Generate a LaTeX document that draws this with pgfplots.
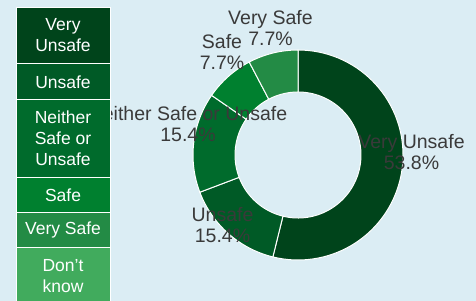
\documentclass[border=0pt]{standalone}
\usepackage{pgfplots}
\usepackage{pgfplotstable}
\pgfplotsset{compat=1.18}
\usepackage{fontspec}
\setmainfont{Liberation Sans}
\definecolor{bg}{HTML}{DBEDF4}
\definecolor{c1}{HTML}{00441B}
\definecolor{c2}{HTML}{005A26}
\definecolor{c3}{HTML}{006B2C}
\definecolor{c4}{HTML}{00802F}
\definecolor{c5}{HTML}{238B45}
\definecolor{c6}{HTML}{41AB5D}
\definecolor{lbl}{HTML}{3A3A3A}

\pgfplotstableread{
idx count
0 7
1 2
2 2
3 1
4 1
5 0
}\datatable

\newcommand\donutwedge[3]{%
  \fill[#1, draw=white, line width=1pt]
    (axis cs:298,145) ++(canvas polar cs:angle=#2,radius=105pt)
    arc[start angle=#2, end angle=#3, radius=105pt]
    -- ++(canvas polar cs:angle={#3+180},radius=42pt)
    arc[start angle=#3, end angle=#2, radius=63pt] -- cycle;}

\begin{document}
\begin{tikzpicture}
\pgfplotstablegetelem{0}{count}\of\datatable\pgfmathsetmacro\vA{\pgfplotsretval}
\pgfplotstablegetelem{1}{count}\of\datatable\pgfmathsetmacro\vB{\pgfplotsretval}
\pgfplotstablegetelem{2}{count}\of\datatable\pgfmathsetmacro\vC{\pgfplotsretval}
\pgfplotstablegetelem{3}{count}\of\datatable\pgfmathsetmacro\vD{\pgfplotsretval}
\pgfplotstablegetelem{4}{count}\of\datatable\pgfmathsetmacro\vE{\pgfplotsretval}
\pgfplotstablegetelem{5}{count}\of\datatable\pgfmathsetmacro\vF{\pgfplotsretval}
\pgfmathsetmacro\tot{\vA+\vB+\vC+\vD+\vE+\vF}
\pgfmathsetmacro\aA{90}
\pgfmathsetmacro\aB{\aA-360*\vA/\tot}
\pgfmathsetmacro\aC{\aB-360*\vB/\tot}
\pgfmathsetmacro\aD{\aC-360*\vC/\tot}
\pgfmathsetmacro\aE{\aD-360*\vD/\tot}
\pgfmathsetmacro\aF{\aE-360*\vE/\tot}
\begin{axis}[hide axis, scale only axis, width=476pt, height=300pt,
  xmin=0, xmax=476, ymin=0, ymax=300, clip=true]
\fill[bg] (axis cs:-5,-5) rectangle (axis cs:481,305);
\donutwedge{c1}{\aA}{\aB}
\donutwedge{c2}{\aB}{\aC}
\donutwedge{c3}{\aC}{\aD}
\donutwedge{c4}{\aD}{\aE}
\donutwedge{c5}{\aE}{\aF}
% labels
\begin{scope}[every node/.style={font=\fontsize{19.5}{20.5}\selectfont, text=lbl, align=center, inner sep=0pt}]
\node at (axis cs:411.5,148) {Very Unsafe\\53.8\%};
\node at (axis cs:222.5,75) {Unsafe\\15.4\%};
\node at (axis cs:188,176) {Neither Safe or Unsafe\\15.4\%};
\node at (axis cs:222,248) {Safe\\7.7\%};
\node at (axis cs:270.5,272) {Very Safe\\7.7\%};
\end{scope}
% legend
\fill[c1, draw=white, line width=1pt] (axis cs:16,292.5) rectangle (axis cs:110,236);
\fill[c2, draw=white, line width=1pt] (axis cs:16,236) rectangle (axis cs:110,200.5);
\fill[c3, draw=white, line width=1pt] (axis cs:16,200.5) rectangle (axis cs:110,122.5);
\fill[c4, draw=white, line width=1pt] (axis cs:16,122.5) rectangle (axis cs:110,88);
\fill[c5, draw=white, line width=1pt] (axis cs:16,88) rectangle (axis cs:110,52.5);
\fill[c6, draw=white, line width=1pt] (axis cs:16,52.5) rectangle (axis cs:110,-5);
\begin{scope}[every node/.style={font=\fontsize{17.5}{21}\selectfont, text=white, align=center, inner sep=0pt}]
\node at (axis cs:63,264.5) {Very\\Unsafe};
\node at (axis cs:63,218) {Unsafe};
\node at (axis cs:63,161.5) {Neither\\Safe or\\Unsafe};
\node at (axis cs:63,105) {Safe};
\node at (axis cs:63,70) {Very Safe};
\node at (axis cs:63,24) {Don{\char"0027}t\\know};
\end{scope}
\end{axis}
\pgfresetboundingbox
\path[use as bounding box] (0,0) rectangle (476pt,300pt);
\end{tikzpicture}
\end{document}
